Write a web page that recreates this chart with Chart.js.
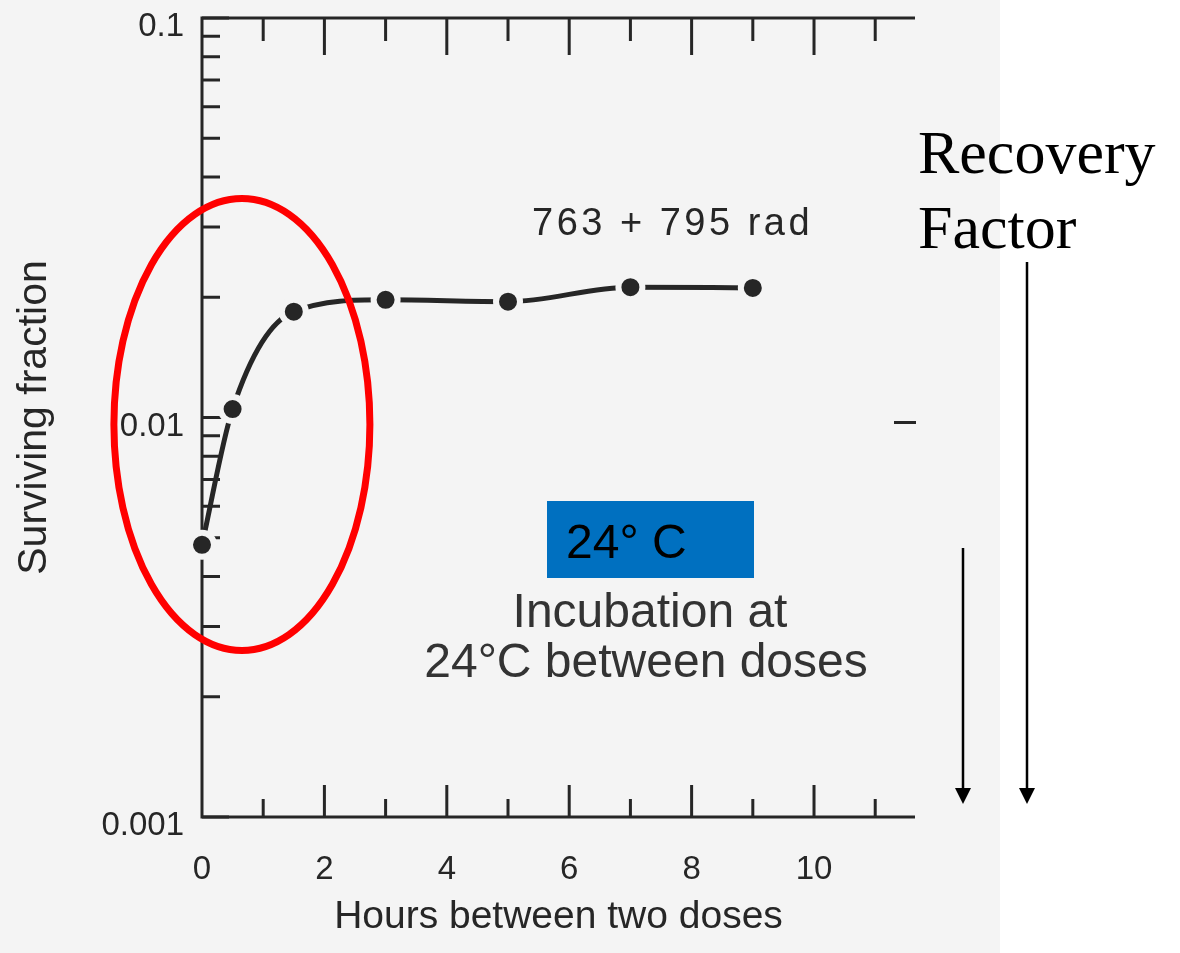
<!DOCTYPE html>
<html>
<head>
<meta charset="utf-8">
<title>Surviving fraction vs hours between two doses</title>
<script src="https://cdn.jsdelivr.net/npm/chart.js@4.4.1/dist/chart.umd.min.js"></script>
<style>
  html, body { margin: 0; padding: 0; background: #ffffff; }
  #wrap { width: 1180px; height: 953px; }
</style>
</head>
<body>
<div id="wrap"><canvas id="chart" width="1180" height="953"></canvas></div>
<script>
// Split-dose survival, 763 + 795 rad, incubation at 24 °C between doses
const hours = [0, 0.5, 1.5, 3, 5, 7, 9];
const survivingFraction = [0.0048, 0.0105, 0.0184, 0.0197, 0.0195, 0.0212, 0.0211];

const xTickValues = [0, 2, 4, 6, 8, 10];
const xTickLabels = ['0', '2', '4', '6', '8', '10'];
const yTickValues = [0.001, 0.01, 0.1];
const yTickLabels = ['0.001', '0.01', '0.1'];

const doseLabel = '763 + 795 rad';
const incubationLines = ['Incubation at', '24°C between doses'];
const tempBadge = '24° C';
const sideLabel = ['Recovery', 'Factor'];

const PAPER = '#f4f4f4';
const INK = '#262626';
const PLOT_TOP = 14;

// paper background: scanned sheet on the left, plain white strip on the right
const paperPlugin = {
  id: 'paper',
  beforeDraw(chart) {
    const ctx = chart.ctx;
    ctx.save();
    ctx.fillStyle = '#ffffff';
    ctx.fillRect(0, 0, chart.width, chart.height);
    ctx.fillStyle = PAPER;
    ctx.fillRect(0, 0, 1000, chart.height);
    ctx.restore();
  }
};

// axis frame with inward-pointing major and minor ticks
const framePlugin = {
  id: 'frame',
  beforeDatasetsDraw(chart) {
    const ctx = chart.ctx;
    const xs = chart.scales.x, ys = chart.scales.y;
    const a = chart.chartArea;
    ctx.save();
    ctx.strokeStyle = INK;
    ctx.lineWidth = 3;
    ctx.lineCap = 'butt';
    ctx.beginPath();
    // left axis
    ctx.moveTo(a.left, a.top - 1.5);
    ctx.lineTo(a.left, a.bottom + 1.5);
    // bottom axis
    ctx.moveTo(a.left - 1.5, a.bottom);
    ctx.lineTo(a.right, a.bottom);
    // top axis
    ctx.moveTo(a.left - 1.5, a.top);
    ctx.lineTo(a.right, a.top);
    ctx.stroke();

    // y ticks: every 1..9 x decade
    ctx.beginPath();
    for (let e = -3; e <= -1; e++) {
      for (let m = 1; m <= 9; m++) {
        const v = m * Math.pow(10, e);
        if (v < ys.min - 1e-12 || v > ys.max + 1e-12) continue;
        const py = ys.getPixelForValue(v);
        const len = m === 1 ? 27 : 18;
        ctx.moveTo(a.left, py);
        ctx.lineTo(a.left + len, py);
      }
    }
    // x ticks: every hour, longer on even hours
    for (let h = 1; h <= Math.floor(xs.max); h++) {
      const px = xs.getPixelForValue(h);
      const major = h % 2 === 0;
      ctx.moveTo(px, a.bottom);
      ctx.lineTo(px, a.bottom - (major ? 32 : 18));
      ctx.moveTo(px, a.top);
      ctx.lineTo(px, a.top + (major ? 37 : 23));
    }
    ctx.stroke();

    // stray tick mark at the right edge of the sheet
    ctx.beginPath();
    ctx.moveTo(894, ys.getPixelForValue(0.01) + 5);
    ctx.lineTo(916, ys.getPixelForValue(0.01) + 5);
    ctx.stroke();
    ctx.restore();
  }
};

// annotations drawn over the plot
const notesPlugin = {
  id: 'notes',
  afterDraw(chart) {
    const ctx = chart.ctx;
    const xs = chart.scales.x, ys = chart.scales.y;
    ctx.save();

    // dose label
    ctx.fillStyle = INK;
    ctx.font = '38px "Liberation Sans"';
    ctx.letterSpacing = '3.5px';
    ctx.textAlign = 'left';
    ctx.textBaseline = 'alphabetic';
    ctx.fillText(doseLabel, 532, 235);
    ctx.letterSpacing = '0px';

    // incubation note
    ctx.font = '48px "Liberation Sans"';
    ctx.textAlign = 'center';
    ctx.fillStyle = '#333333';
    ctx.fillText(incubationLines[0], 650, 627);
    ctx.fillText(incubationLines[1], 646, 677);

    // blue temperature badge
    ctx.fillStyle = '#0070c0';
    ctx.fillRect(547, 501, 207, 77);
    ctx.fillStyle = '#000000';
    ctx.font = '48px "Liberation Sans"';
    ctx.textAlign = 'left';
    ctx.fillText(tempBadge, 566, 558);

    // red ellipse around the early recovery points
    const cx = (xs.getPixelForValue(hours[0]) + xs.getPixelForValue(hours[2])) / 2 - 6;
    const cy = ys.getPixelForValue(0.01) + 7;
    ctx.strokeStyle = '#ff0000';
    ctx.lineWidth = 7;
    ctx.beginPath();
    ctx.ellipse(cx, cy, 128, 226, 0, 0, Math.PI * 2);
    ctx.stroke();

    // side label
    ctx.fillStyle = '#000000';
    ctx.font = '62px "Liberation Serif"';
    ctx.textAlign = 'left';
    ctx.fillText(sideLabel[0], 918, 173);
    ctx.fillText(sideLabel[1], 918, 248);

    // downward arrows
    const arrow = (x, y0, y1) => {
      ctx.strokeStyle = '#000000';
      ctx.lineWidth = 2.5;
      ctx.beginPath();
      ctx.moveTo(x, y0);
      ctx.lineTo(x, y1 - 14);
      ctx.stroke();
      ctx.fillStyle = '#000000';
      ctx.beginPath();
      ctx.moveTo(x - 8, y1 - 16);
      ctx.lineTo(x + 8, y1 - 16);
      ctx.lineTo(x, y1);
      ctx.closePath();
      ctx.fill();
    };
    arrow(963, 548, 804);
    arrow(1027, 262, 804);

    ctx.restore();
  }
};

const ctx = document.getElementById('chart').getContext('2d');
const chart = new Chart(ctx, {
  type: 'line',
  data: {
    datasets: [{
      data: hours.map((h, i) => ({ x: h, y: survivingFraction[i] })),
      borderColor: INK,
      borderWidth: 5,
      borderCapStyle: 'round',
      cubicInterpolationMode: 'monotone',
      pointRadius: 12,
      pointBorderWidth: 6,
      pointBackgroundColor: INK,
      pointBorderColor: PAPER,
      pointHoverRadius: 12,
      clip: false,
      fill: false
    }]
  },
  options: {
    responsive: false,
    animation: false,
    devicePixelRatio: 1,
    layout: { padding: { top: PLOT_TOP, right: 265, left: 0, bottom: 0 } },
    plugins: { legend: { display: false }, tooltip: { enabled: false } },
    scales: {
      x: {
        type: 'linear',
        min: 0,
        max: 11.65,
        grid: { display: false },
        border: { display: false },
        afterBuildTicks: (s) => { s.ticks = xTickValues.map(v => ({ value: v })); },
        afterFit: (s) => { s.height = 136; s.paddingLeft = 0; s.paddingRight = 0; },
        ticks: {
          color: INK,
          font: { family: 'Liberation Sans', size: 33 },
          padding: 25,
          maxRotation: 0,
          autoSkip: false,
          callback: (v) => xTickLabels[xTickValues.indexOf(v)] ?? ''
        },
        title: {
          display: true,
          text: 'Hours between two doses',
          color: INK,
          font: { family: 'Liberation Sans', size: 39 },
          padding: { top: 0, bottom: 12 }
        }
      },
      y: {
        type: 'logarithmic',
        min: 0.001,
        max: 0.1,
        grid: { display: false },
        border: { display: false },
        afterBuildTicks: (s) => { s.ticks = yTickValues.map(v => ({ value: v })); },
        afterFit: (s) => { s.width = 202; s.paddingTop = 0; s.paddingBottom = 0; },
        ticks: {
          color: INK,
          font: { family: 'Liberation Sans', size: 33, lineHeight: 0.7 },
          padding: 10,
          labelOffset: 9,
          autoSkip: false,
          callback: (v) => {
            const i = yTickValues.findIndex(t => Math.abs(t - v) < 1e-9);
            return i >= 0 ? yTickLabels[i] : '';
          }
        },
        title: {
          display: true,
          text: 'Surviving fraction',
          color: INK,
          font: { family: 'Liberation Sans', size: 41 },
          padding: { top: 10, bottom: 0 }
        }
      }
    }
  },
  plugins: [paperPlugin, framePlugin, notesPlugin]
});

// keep the top frame line where the layout intends it
const drift = chart.chartArea.top - PLOT_TOP;
if (Math.abs(drift) > 0.5) {
  chart.options.layout.padding.top = Math.max(0, PLOT_TOP - drift);
  chart.update();
}
</script>
</body>
</html>
